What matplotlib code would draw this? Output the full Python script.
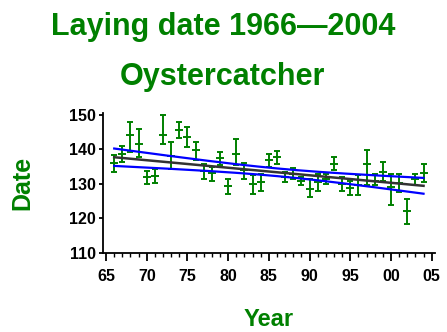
"""
Laying date of Oystercatcher 1966-2004, yearly means with error bars
and a weighted linear trend with its 95% confidence band.
"""
import matplotlib
matplotlib.use('Agg')
import matplotlib.pyplot as plt
import numpy as np

GREEN = '#008000'
BLUE = '#0000FF'
INK = '#000000'

# Data: year (19xx), mean date, bar low, bar high
years = [66, 67, 68, 69, 70, 71, 72, 73, 74, 75, 76, 77, 78, 79, 80, 81, 82, 83, 84, 85,
         86, 87, 88, 89, 90, 91, 92, 93, 94, 95, 96, 97, 98, 99, 100, 101, 102, 103, 104]
mean_date = [136.0, 138.6, 144.2, 141.7, 132.0, 132.2, 144.2, 138.0, 145.6, 143.7,
             139.8, 133.8, 133.2, 137.4, 129.3, 138.8, 134.0, 130.1, 130.6, 136.9,
             137.7, 132.0, 133.0, 130.8, 128.6, 130.6, 131.5, 135.9, 130.1, 128.9,
             129.6, 135.9, 131.0, 133.5, 129.1, 130.3, 122.3, 131.3, 133.2]
low_date = [133.4, 136.3, 139.2, 137.8, 129.9, 130.3, 141.7, 134.3, 143.2, 140.8,
            136.9, 131.5, 130.8, 135.4, 127.2, 135.4, 131.5, 127.2, 128.1, 134.9,
            135.9, 130.6, 131.5, 129.6, 126.2, 128.1, 130.1, 134.0, 128.1, 126.7,
            126.7, 129.6, 129.6, 131.0, 124.0, 127.6, 118.4, 129.6, 130.6]
high_date = [138.3, 141.0, 148.0, 145.9, 133.8, 134.2, 150.0, 142.2, 148.0, 146.6,
             142.2, 135.9, 135.0, 139.3, 131.5, 142.9, 136.1, 132.5, 133.0, 138.8,
             139.6, 133.5, 134.5, 132.0, 131.5, 133.0, 133.0, 137.8, 132.0, 131.0,
             132.5, 139.8, 133.0, 136.4, 133.0, 133.0, 125.7, 133.0, 135.9]
xtick_vals = [65, 70, 75, 80, 85, 90, 95, 100, 105]
xtick_labels = ['65', '70', '75', '80', '85', '90', '95', '00', '05']
ytick_vals = [110, 120, 130, 140, 150]

x = np.array(years, dtype=float)
y = np.array(mean_date)
lo = np.array(low_date)
hi = np.array(high_date)
yerr = np.array([y - lo, hi - y])

# weighted linear trend (weights from bar half widths) + 95% band
sig = (hi - lo) / 2
w = 1 / sig ** 2
X = np.column_stack([np.ones_like(x), x])
A = X.T @ (X * w[:, None])
beta = np.linalg.solve(A, X.T @ (w * y))
resid = y - X @ beta
n = len(x)
s2 = np.sum(w * resid ** 2) / (n - 2)
cov = s2 * np.linalg.inv(A)
xf = np.linspace(x.min(), x.max(), 200)
Xf = np.column_stack([np.ones_like(xf), xf])
yf = Xf @ beta
se = np.sqrt(np.einsum('ij,jk,ik->i', Xf, cov, Xf))
t = 2.026

fig = plt.figure(figsize=(4.47, 3.32), dpi=100)
fig.patch.set_facecolor('white')
ax = fig.add_axes([0.230, 0.238, 0.743, 0.422])

ax.errorbar(x, y, yerr=yerr, fmt='_', color=GREEN, ecolor=GREEN,
            elinewidth=1.4, capsize=2.5, capthick=1.4, markersize=5.5, mew=1.4, zorder=2)
ax.plot(xf, yf + t * se, color=BLUE, lw=1.6, zorder=3)
ax.plot(xf, yf - t * se, color=BLUE, lw=1.6, zorder=3)
ax.plot(xf, yf, color='#333333', lw=1.8, zorder=4)

ax.set_xlim(64.6, 105.4)
ax.set_ylim(110, 150.6)
ax.set_xticks(xtick_vals)
ax.set_xticklabels(xtick_labels)
ax.set_xticks(years, minor=True)
ax.set_yticks(ytick_vals)

for sp in ['top', 'right']:
    ax.spines[sp].set_visible(False)
for sp in ['left', 'bottom']:
    ax.spines[sp].set_linewidth(1.3)
    ax.spines[sp].set_color(INK)

ax.tick_params(axis='x', which='major', length=5.5, width=1.3, direction='out', pad=6)
ax.tick_params(axis='x', which='minor', length=3, width=1.0, direction='out')
ax.tick_params(axis='y', which='major', length=3, width=1.3, direction='out', pad=2)
for lab in ax.get_xticklabels() + ax.get_yticklabels():
    lab.set_fontfamily('Liberation Sans')
    lab.set_fontweight('bold')
    lab.set_fontsize(11.5)

ax.set_xlabel('Year', fontsize=17, fontweight='bold', color=GREEN,
              family='Liberation Sans', labelpad=17)
ax.set_ylabel('Date', fontsize=18, fontweight='bold', color=GREEN,
              family='Liberation Sans', labelpad=25)

fig.text(0.50, 0.895, 'Laying date 1966\u20142004', fontsize=22, fontweight='bold',
         color=GREEN, family='Liberation Sans', ha='center', va='baseline')
fig.text(0.497, 0.744, 'Oystercatcher', fontsize=22, fontweight='bold',
         color=GREEN, family='Liberation Sans', ha='center', va='baseline')

fig.savefig('out.png', dpi=100, facecolor='white')
plt.close(fig)
